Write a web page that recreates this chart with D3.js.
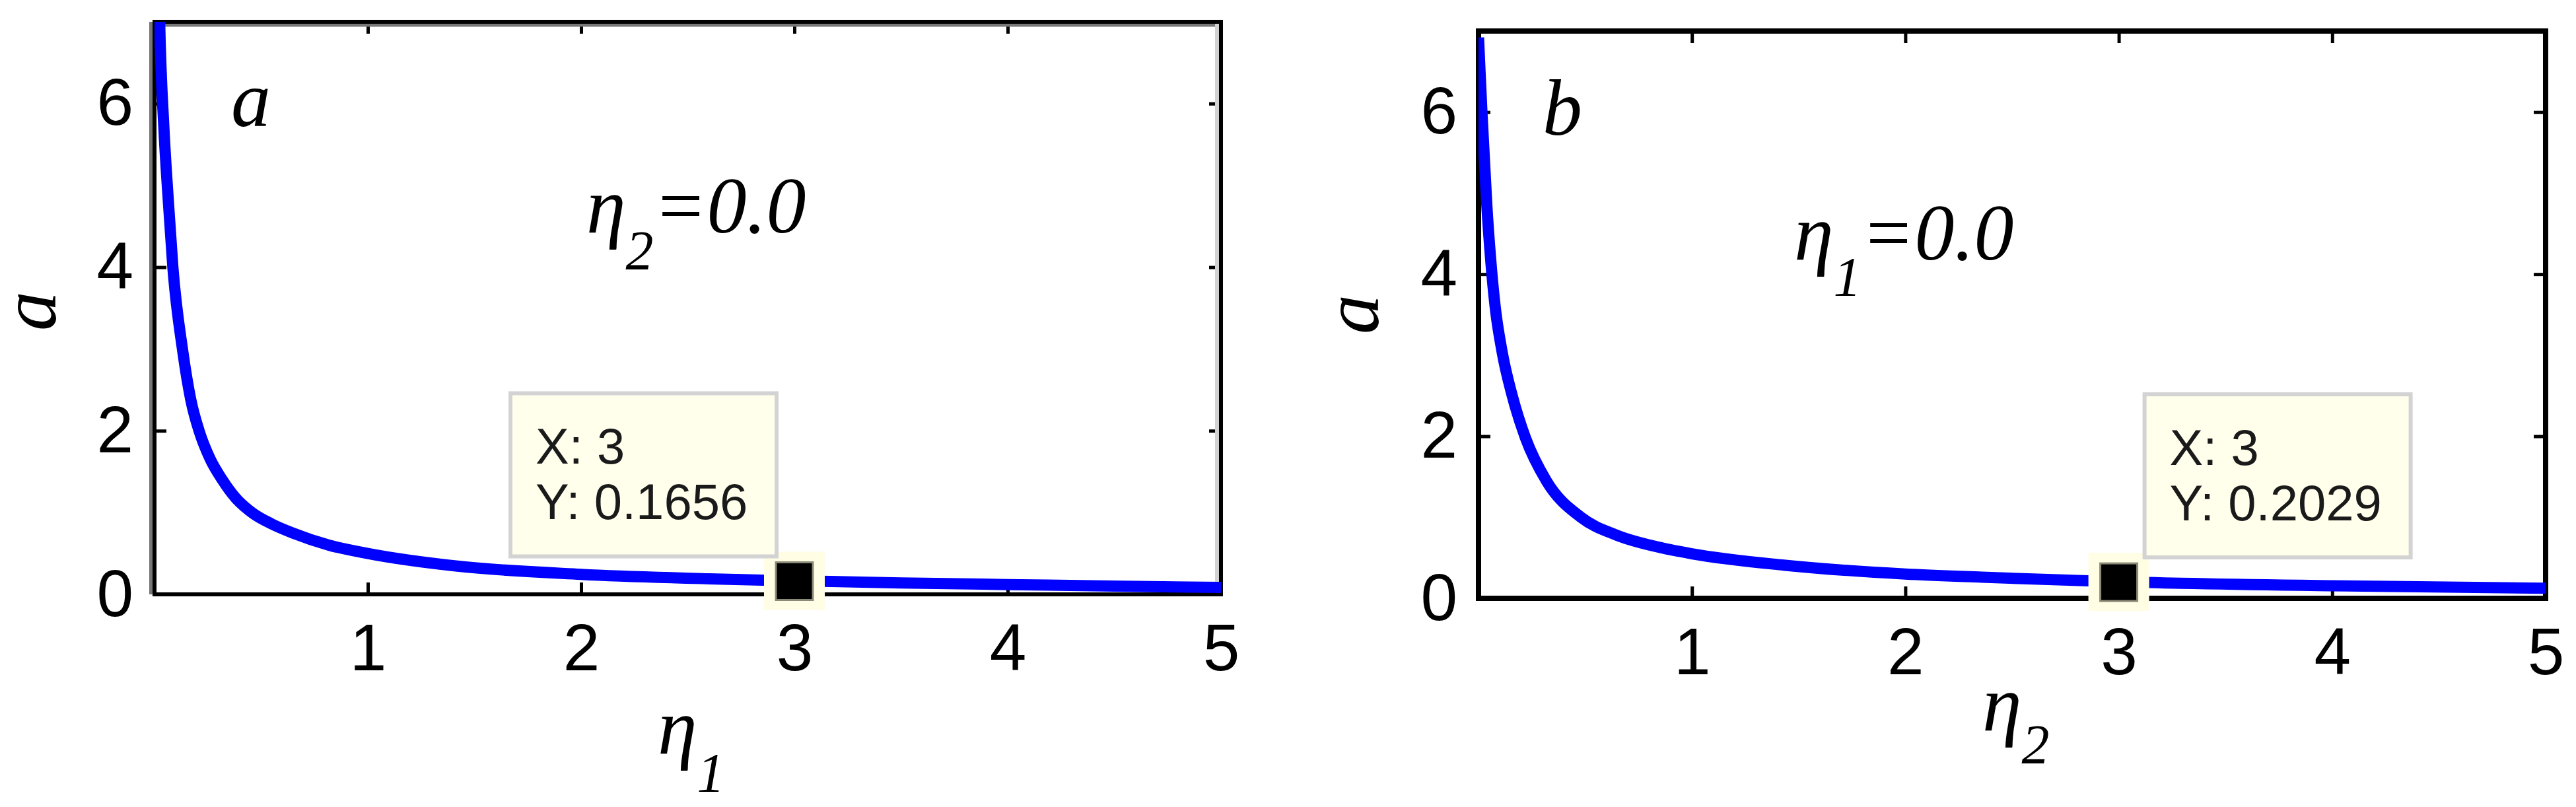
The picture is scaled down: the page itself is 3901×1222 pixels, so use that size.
<!DOCTYPE html>
<html>
<head>
<meta charset="utf-8">
<script src="https://cdn.jsdelivr.net/npm/d3@7"></script>
<style>
  body { margin: 0; background: #fff; }
  svg { display: block; }
  .tick text { font-family: "Liberation Sans", Arial, sans-serif; font-size: 100px; fill: #000; }
  .tick line { stroke: #000; stroke-width: 5; }
  .math { font-family: "Liberation Serif", "Times New Roman", serif; font-style: italic; fill: #000; }
  .tip { font-family: "Liberation Sans", Arial, sans-serif; font-size: 76px; fill: #1a1a1a; }
</style>
</head>
<body>
<script>
var W = 3901, H = 1222;

// axis settings shared by both panels
var xDomain = [0, 5], yDomain = [0, 7];
var xTicks = [1, 2, 3, 4, 5];
var yTicks = [0, 2, 4, 6];

// panel a: a versus eta_1 (eta_2 = 0)
var eta1 = [0.02, 0.024, 0.044, 0.065, 0.086, 0.132, 0.17, 0.21, 0.26, 0.318, 0.38, 0.462, 0.55, 0.648, 0.82, 1.0, 1.42, 2.0, 2.6, 3.0, 3.5, 4.0, 4.5, 5.0];
var aEta1 = [7.5, 7.0, 5.7, 4.8, 4.0, 2.98, 2.38, 1.99, 1.66, 1.40, 1.18, 0.99, 0.86, 0.75, 0.60, 0.50, 0.345, 0.245, 0.19, 0.1656, 0.14, 0.12, 0.10, 0.085];

// panel b: a versus eta_2 (eta_1 = 0)
var eta2 = [0, 0.008, 0.016, 0.027, 0.039, 0.058, 0.078, 0.11, 0.158, 0.22, 0.318, 0.48, 0.647, 0.864, 1.0, 1.43, 2.0, 2.36, 3.0, 4.0, 5.0];
var aEta2 = [6.92, 6.45, 6.0, 5.45, 4.85, 4.15, 3.6, 3.05, 2.5, 1.98, 1.45, 1.0, 0.78, 0.62, 0.55, 0.41, 0.30, 0.26, 0.2029, 0.155, 0.125];

// data tips
var tipX = [3, 3];
var tipY = [0.1656, 0.2029];

// labels
var panelLetters = ["a", "b"];
var heldSub = ["2", "1"];
var heldValue = ["0.0", "0.0"];
var xSub = ["1", "2"];
var yLabel = "a";

// placement of each panel on the page
var layout = [
  {left: 234, right: 1849, top: 33, bottom: 900, lw: 6, accent: true,
   letter: [350, 191], param: [888, 352, 56], xlab: [996, 1141, 58], ylab: [84, 471], tipSide: "left"},
  {left: 2239, right: 3855, top: 47, bottom: 906, lw: 8, accent: false,
   letter: [2336, 204], param: [2717, 393, 55], xlab: [3002, 1106, 50], ylab: [2087, 476], tipSide: "right"}
];

var svg = d3.select("body").append("svg")
    .attr("width", W)
    .attr("height", H);

svg.append("rect")
    .attr("width", W)
    .attr("height", H)
    .attr("fill", "#fff");

drawPanel(0, eta1, aEta1);
drawPanel(1, eta2, aEta2);

function drawPanel(i, xs, ys) {
  var L = layout[i];
  var x = d3.scaleLinear().domain(xDomain).range([L.left, L.right]);
  var y = d3.scaleLinear().domain(yDomain).range([L.bottom, L.top]);
  var g = svg.append("g");
  var fmt = d3.format("d");

  // axes with inward ticks on all four sides (MATLAB box style)
  var axes = [
    {ax: d3.axisBottom(x).tickValues(xTicks).tickFormat(fmt).tickPadding(44), t: "translate(0," + L.bottom + ")"},
    {ax: d3.axisTop(x).tickValues(xTicks).tickFormat(""), t: "translate(0," + L.top + ")"},
    {ax: d3.axisLeft(y).tickValues(yTicks).tickFormat(fmt).tickPadding(32), t: "translate(" + L.left + ",0)"},
    {ax: d3.axisRight(y).tickValues(yTicks).tickFormat(""), t: "translate(" + L.right + ",0)"}
  ];
  axes.forEach(function(a) {
    g.append("g")
        .attr("transform", a.t)
        .call(a.ax.tickSize(-18).tickSizeOuter(0))
        .call(function(s) { s.select(".domain").remove(); });
  });

  // grey edge seen along the left and top of panel a
  if (L.accent) {
    g.append("line")
        .attr("x1", L.left - 5).attr("x2", L.left - 5)
        .attr("y1", L.top).attr("y2", L.bottom)
        .attr("stroke", "#777").attr("stroke-width", 6);
    g.append("line")
        .attr("x1", L.left).attr("x2", L.right)
        .attr("y1", L.top + 5).attr("y2", L.top + 5)
        .attr("stroke", "#777").attr("stroke-width", 5);
    g.append("line")
        .attr("x1", L.right - 6).attr("x2", L.right - 6)
        .attr("y1", L.top).attr("y2", L.bottom)
        .attr("stroke", "#d2d2d2").attr("stroke-width", 6);
  }

  g.append("rect")
      .attr("x", L.left)
      .attr("y", L.top)
      .attr("width", L.right - L.left)
      .attr("height", L.bottom - L.top)
      .attr("fill", "none")
      .attr("stroke", "#000")
      .attr("stroke-width", L.lw);

  // the curve, clipped to the plot box
  var clipId = "clip" + i;
  svg.append("clipPath")
      .attr("id", clipId)
    .append("rect")
      .attr("x", L.left)
      .attr("y", L.top)
      .attr("width", L.right - L.left)
      .attr("height", L.bottom - L.top + 4);

  var line = d3.line()
      .x(function(d) { return x(d[0]); })
      .y(function(d) { return y(d[1]); })
      .curve(d3.curveMonotoneX);

  g.append("path")
      .datum(xs.map(function(v, k) { return [v, ys[k]]; }))
      .attr("clip-path", "url(#" + clipId + ")")
      .attr("d", line)
      .attr("fill", "none")
      .attr("stroke", "#0000ff")
      .attr("stroke-width", 17)
      .attr("stroke-linejoin", "round");

  // data tip marker
  var mx = x(tipX[i]), my = y(tipY[i]);
  g.append("rect")
      .attr("x", mx - 46).attr("y", my - 44)
      .attr("width", 92).attr("height", 88)
      .attr("fill", "#fffde4");
  g.append("rect")
      .attr("x", mx - 28).attr("y", my - 28)
      .attr("width", 56).attr("height", 57)
      .attr("fill", "#000")
      .attr("stroke", "#8c8b78")
      .attr("stroke-width", 3);

  // data tip box
  var bw = 403, bh = 247;
  var bx = L.tipSide === "left" ? mx - 27 - bw : mx + 39;
  var by = my - 37 - bh;
  g.append("rect")
      .attr("x", bx).attr("y", by)
      .attr("width", bw).attr("height", bh)
      .attr("fill", "#ffffec")
      .attr("stroke", "#d3d3d3")
      .attr("stroke-width", 6);
  g.append("text")
      .attr("class", "tip")
      .attr("x", bx + 38).attr("y", by + 107)
      .text("X: " + tipX[i]);
  g.append("text")
      .attr("class", "tip")
      .attr("x", bx + 38).attr("y", by + 191)
      .text("Y: " + tipY[i]);

  // panel letter
  g.append("text")
      .attr("class", "math")
      .attr("x", L.letter[0]).attr("y", L.letter[1])
      .attr("font-size", 120)
      .text(panelLetters[i]);

  // eta_k = 0.0 annotation
  var p = g.append("text")
      .attr("class", "math")
      .attr("x", L.param[0]).attr("y", L.param[1])
      .attr("font-size", 120);
  p.append("tspan").text("\u03b7");
  p.append("tspan").attr("dy", L.param[2]).attr("font-size", 84).text(heldSub[i]);
  p.append("tspan").attr("dy", -L.param[2]).text("=" + heldValue[i]);

  // x label
  var xl = g.append("text")
      .attr("class", "math")
      .attr("x", L.xlab[0]).attr("y", L.xlab[1])
      .attr("font-size", 120);
  xl.append("tspan").text("\u03b7");
  xl.append("tspan").attr("dy", L.xlab[2]).attr("font-size", 84).text(xSub[i]);

  // y label
  g.append("text")
      .attr("class", "math")
      .attr("transform", "translate(" + L.ylab[0] + "," + L.ylab[1] + ") rotate(-90)")
      .attr("text-anchor", "middle")
      .attr("font-size", 120)
      .text(yLabel);
}
</script>
</body>
</html>
